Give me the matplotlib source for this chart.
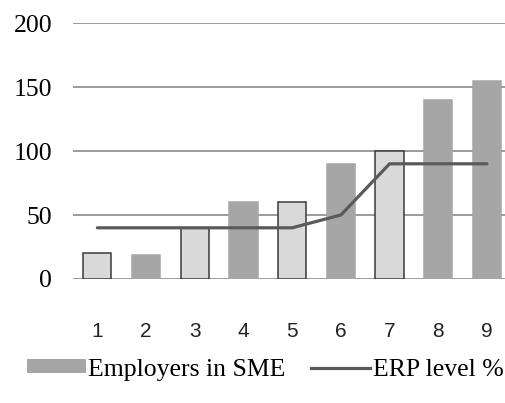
import numpy as np
from matplotlib import pyplot as plt
from matplotlib.patches import Patch
from matplotlib.lines import Line2D

categories = ['1', '2', '3', '4', '5', '6', '7', '8', '9']
employers = [20, 19, 40, 60, 60, 90, 100, 140, 155]
erp_level = [40, 40, 40, 40, 40, 50, 90, 90, 90]
light_bars = [True, False, True, False, True, False, True, False, False]

fig = plt.figure(figsize=(5.05, 4.03), dpi=100)
ax = fig.add_axes([0.1446, 0.3077, 0.8554, 0.6352])

x = np.arange(1, len(categories) + 1)
face = ['#d9d9d9' if l else '#a6a6a6' for l in light_bars]
edge = ['#3a3a3a' if l else '#a6a6a6' for l in light_bars]
ax.bar(x, employers, width=0.58, color=face, edgecolor=edge, linewidth=1.1, zorder=2)
ax.plot(x, erp_level, color='#5a5a5a', lw=2.3, zorder=3, solid_capstyle='round')

ax.set_ylim(0, 200)
ax.set_xlim(0.5, 9.37)
ax.set_yticks([0, 50, 100, 150, 200])
ax.set_xticks(x)
ax.set_xticklabels(categories, fontfamily='Liberation Sans', fontsize=15, color='#222222')
for lab in ax.get_yticklabels():
    lab.set_fontfamily('Liberation Serif')
    lab.set_fontsize(18.5)
ax.tick_params(axis='y', length=0, pad=15)
ax.tick_params(axis='x', length=0, pad=31)
ax.grid(axis='y', color='#8a8a8a', lw=1.2, zorder=0)
for s in ax.spines.values():
    s.set_visible(False)

handles = [Patch(facecolor='#a6a6a6', edgecolor='none'),
           Line2D([0], [0], color='#5a5a5a', lw=2.3)]
fig.legend(handles, ['Employers in SME', 'ERP level %'], loc='center',
           bbox_to_anchor=(0.525, 0.083), ncol=2, frameon=False,
           prop={'family': 'Liberation Serif', 'size': 18.5},
           handlelength=2.3, handleheight=0.45, handletextpad=0.1, columnspacing=1.0)

fig.savefig('out.png', dpi=100)
